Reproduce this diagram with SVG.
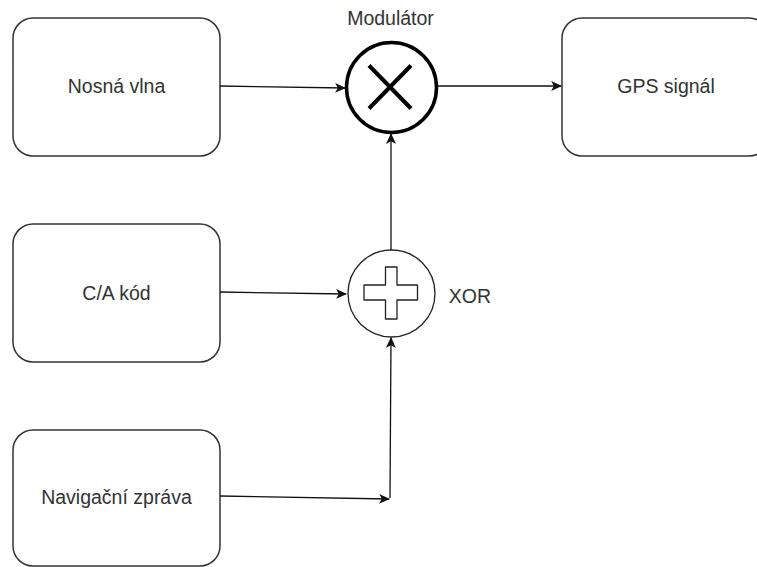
<svg xmlns="http://www.w3.org/2000/svg" width="757" height="567" viewBox="0 0 757 567">
  <style>
    .box { fill: #ffffff; stroke: #333333; stroke-width: 1.5; }
    .label { font-family: "Liberation Sans", Arial, sans-serif; font-size: 19.5px; fill: #333333; text-anchor: middle; dominant-baseline: central; }
    .edge { fill: none; stroke: #111111; stroke-width: 1.3; }
  </style>
  <defs>
    <marker id="arrow" viewBox="0 0 10 10" refX="9" refY="5" markerWidth="11" markerHeight="11" markerUnits="userSpaceOnUse" orient="auto">
      <path d="M0,0.5 L10,5 L0,9.5 L2.5,5 Z" fill="#111111"/>
    </marker>
  </defs>
  <rect width="757" height="567" fill="#ffffff"/>

  <g id="nosna-vlna">
    <rect class="box" x="13" y="18" width="207" height="138" rx="20"/>
    <text class="label" x="116.5" y="86">Nosná vlna</text>
  </g>
  <g id="gps-signal">
    <rect class="box" x="562" y="18" width="207" height="138" rx="20"/>
    <text class="label" x="666" y="86">GPS signál</text>
  </g>
  <g id="ca-kod">
    <rect class="box" x="13" y="224" width="207" height="138" rx="20"/>
    <text class="label" x="116.5" y="293">C/A kód</text>
  </g>
  <g id="navigacni-zprava">
    <rect class="box" x="13" y="430" width="207" height="136" rx="20"/>
    <text class="label" x="116.5" y="497">Navigační zpráva</text>
  </g>

  <g id="modulator">
    <circle cx="391.5" cy="87.5" r="45" fill="#ffffff" stroke="#000000" stroke-width="3.5"/>
    <path d="M369,65.5 L411,108.5 M411,65.5 L369,108.5" stroke="#000000" stroke-width="4" fill="none"/>
    <text class="label" x="390.5" y="18">Modulátor</text>
  </g>
  <g id="xor">
    <circle cx="391.5" cy="293.5" r="43.5" fill="#ffffff" stroke="#222222" stroke-width="1.3"/>
    <path d="M385.5,267 L397,267 L397,285 L417.5,285 L417.5,300 L397,300 L397,319 L385.5,319 L385.5,300 L364,300 L364,285 L385.5,285 Z" fill="#ffffff" stroke="#222222" stroke-width="1.3" stroke-linejoin="round"/>
    <text class="label" x="470" y="296">XOR</text>
  </g>

  <g id="connectors">
    <path class="edge" d="M220,86 L345,88" marker-end="url(#arrow)"/>
    <path class="edge" d="M437,86 L561,86" marker-end="url(#arrow)"/>
    <path class="edge" d="M391,250 L391,134" marker-end="url(#arrow)"/>
    <path class="edge" d="M220,292 L346,294" marker-end="url(#arrow)"/>
    <path class="edge" d="M220,496 L389,499" marker-end="url(#arrow)"/>
    <path class="edge" d="M390,498 L391,338" marker-end="url(#arrow)"/>
  </g>
</svg>
